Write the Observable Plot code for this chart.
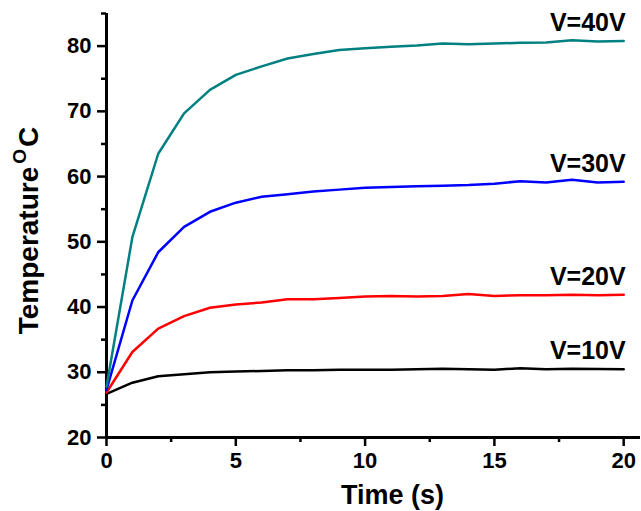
<!DOCTYPE html>
<html><head><meta charset="utf-8">
<script src="https://cdn.jsdelivr.net/npm/d3@7"></script>
<script src="https://cdn.jsdelivr.net/npm/@observablehq/plot@0.6"></script>
<style>body{margin:0;background:#fff} svg{display:block}</style>
</head><body><div id="chart"></div>
<script>
const time = [0,1,2,3,4,5,6,7,8,9,10,11,12,13,14,15,16,17,18,19,20];
const v10 = [26.7,28.4,29.4,29.7,30.0,30.1,30.2,30.3,30.3,30.4,30.4,30.4,30.45,30.55,30.45,30.4,30.6,30.45,30.55,30.5,30.45];
const v20 = [26.9,33.1,36.7,38.6,39.9,40.4,40.7,41.2,41.2,41.4,41.6,41.7,41.6,41.7,42.0,41.7,41.8,41.8,41.9,41.8,41.9];
const v30 = [27.3,41.0,48.4,52.3,54.6,56.0,56.9,57.3,57.7,58.0,58.3,58.4,58.5,58.6,58.7,58.9,59.3,59.1,59.5,59.1,59.2];
const v40 = [27.8,50.7,63.5,69.7,73.3,75.6,76.9,78.1,78.8,79.4,79.66,79.9,80.1,80.4,80.3,80.4,80.5,80.55,80.9,80.7,80.8];
const seriesNames = ["V=10V","V=20V","V=30V","V=40V"];
const seriesColors = ["#000000","#ff0000","#0000ff","#008080"];
const xTicks = [0,5,10,15,20];
const xMinorTicks = [2.5,7.5,12.5,17.5];
const yTicks = [20,30,40,50,60,70,80];
const yMinorTicks = [25,35,45,55,65,75,85];
const xTitle = "Time (s)";
const yTitle = "Temperature OC";

const seriesValues = [v10, v20, v30, v40];
const rows = seriesNames.flatMap((s, k) => time.map((t, i) => ({series: s, t, v: seriesValues[k][i]})));

const font = 'Arial, "Liberation Sans", Helvetica, sans-serif';
const plot = Plot.plot({
  width: 641, height: 511,
  marginLeft: 106, marginRight: 1, marginTop: 13, marginBottom: 74,
  x: {domain: [0, 20.65], label: null},
  y: {domain: [20, 85], label: null},
  color: {domain: seriesNames, range: seriesColors},
  style: {fontFamily: font, fontWeight: "bold", fontSize: "22px", background: "#fff", color: "#000", overflow: "visible"},
  marks: [
    Plot.axisX({ticks: xTicks, tickSize: 9, tickPadding: 6, strokeWidth: 2.5, label: null, fontSize: 22}),
    Plot.axisX({ticks: xMinorTicks, tickSize: 5, text: null, strokeWidth: 2.5, label: null}),
    Plot.axisY({ticks: yTicks, tickSize: 9, tickPadding: 6, strokeWidth: 2.5, label: null, fontSize: 22}),
    Plot.axisY({ticks: yMinorTicks, tickSize: 5, text: null, strokeWidth: 2.5, label: null}),
    Plot.ruleX([0], {strokeWidth: 3}),
    Plot.ruleY([20], {strokeWidth: 3}),
    Plot.line(rows, {x: "t", y: "v", z: "series", stroke: "series", strokeWidth: 2.5, strokeLinejoin: "round"}),
    Plot.text(rows, Plot.selectLast({x: "t", y: "v", z: "series", text: "series", textAnchor: "end", lineAnchor: "bottom", dy: -10, dx: 2, fontSize: 25})),
    Plot.text([xTitle], {frameAnchor: "bottom", textAnchor: "middle", lineAnchor: "bottom", dy: 66, dx: 19, fontSize: 27}),
    Plot.text([yTitle], {frameAnchor: "left", textAnchor: "middle", rotate: -90, lineAnchor: "bottom", dx: -69, dy: 5, fontSize: 28})
  ]
});
d3.select(plot).selectAll("text").filter(function() { return this.textContent === yTitle; }).each(function() {
  const t = d3.select(this);
  t.text(null);
  t.append("tspan").text("Temperature");
  t.append("tspan").attr("font-size", "19px").attr("dx", 3).attr("dy", -12).text("O");
  t.append("tspan").attr("font-size", "28px").attr("dx", 2).attr("dy", 12).text("C");
});
document.getElementById("chart").appendChild(plot);
</script>
</body></html>
